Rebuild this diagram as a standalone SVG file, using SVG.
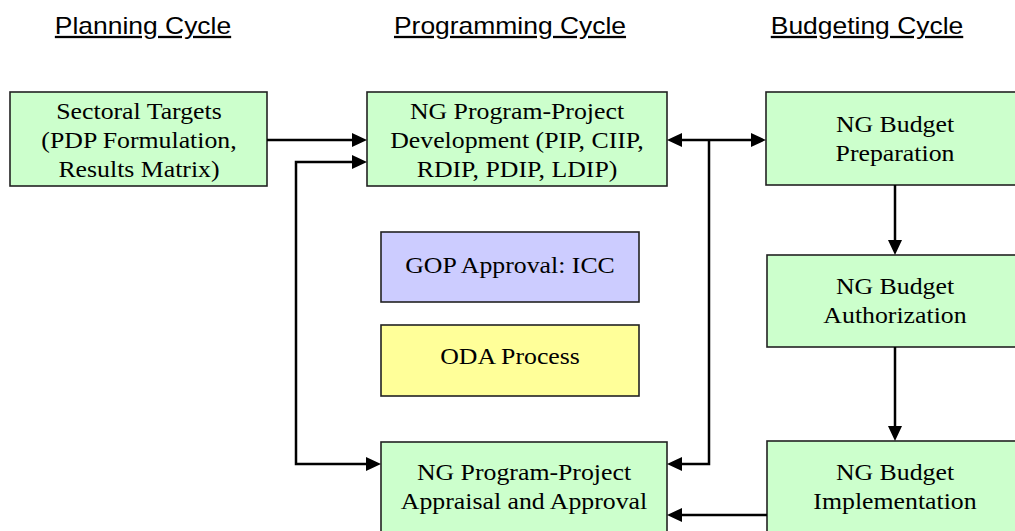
<svg xmlns="http://www.w3.org/2000/svg" width="1015" height="531" viewBox="0 0 1015 531">
  <style>
    .box { stroke: #222; stroke-width: 1.6; }
    .green { fill: #ccffcc; }
    .blue { fill: #ccccff; }
    .yellow { fill: #ffff99; }
    .lbl { font-family: "Liberation Serif", "Times New Roman", serif; font-size: 24px; fill: #000; text-anchor: middle; }
    .head { font-family: "Liberation Sans", Arial, sans-serif; font-size: 23px; fill: #000; text-anchor: middle; text-decoration: underline; }
    .conn { fill: none; stroke: #000; stroke-width: 2.5; }
  </style>
  <defs>
    <marker id="arrow" markerUnits="userSpaceOnUse" markerWidth="16" markerHeight="15" refX="5" refY="7" orient="auto-start-reverse">
      <path d="M0,0 L15,7 L0,14 Z" fill="#000"/>
    </marker>
  </defs>
  <rect width="1015" height="531" fill="#fff"/>

  <!-- column headings -->
  <g id="headings">
    <text class="head" transform="translate(143 0) scale(1.15 1)" x="0" y="34">Planning Cycle</text>
    <text class="head" transform="translate(510 0) scale(1.15 1)" x="0" y="34">Programming Cycle</text>
    <text class="head" transform="translate(867 0) scale(1.15 1)" x="0" y="34">Budgeting Cycle</text>
  </g>

  <g id="sectoral-targets">
    <rect class="box green" x="10" y="92" width="257" height="94"/>
    <text class="lbl" transform="translate(139 0) scale(1.075 1)" y="119"><tspan x="0">Sectoral Targets</tspan><tspan x="0" dy="29">(PDP Formulation,</tspan><tspan x="0" dy="29">Results Matrix)</tspan></text>
  </g>

  <g id="program-development">
    <rect class="box green" x="367" y="92" width="300" height="94"/>
    <text class="lbl" transform="translate(517 0) scale(1.075 1)" y="119"><tspan x="0">NG Program-Project</tspan><tspan x="0" dy="29">Development (PIP, CIIP,</tspan><tspan x="0" dy="29">RDIP, PDIP, LDIP)</tspan></text>
  </g>

  <g id="budget-preparation">
    <rect class="box green" x="766" y="92" width="260" height="93"/>
    <text class="lbl" transform="translate(895 0) scale(1.075 1)" y="132"><tspan x="0">NG Budget</tspan><tspan x="0" dy="29">Preparation</tspan></text>
  </g>

  <g id="gop-approval">
    <rect class="box blue" x="381" y="232" width="258" height="70"/>
    <text class="lbl" transform="translate(510 0) scale(1.075 1)" x="0" y="273">GOP Approval: ICC</text>
  </g>

  <g id="oda-process">
    <rect class="box yellow" x="381" y="325" width="258" height="71"/>
    <text class="lbl" transform="translate(510 0) scale(1.075 1)" x="0" y="364">ODA Process</text>
  </g>

  <g id="budget-authorization">
    <rect class="box green" x="767" y="255" width="260" height="92"/>
    <text class="lbl" transform="translate(895 0) scale(1.075 1)" y="294"><tspan x="0">NG Budget</tspan><tspan x="0" dy="29">Authorization</tspan></text>
  </g>

  <g id="program-appraisal">
    <rect class="box green" x="381" y="442" width="286" height="100"/>
    <text class="lbl" transform="translate(524 0) scale(1.075 1)" y="480"><tspan x="0">NG Program-Project</tspan><tspan x="0" dy="29">Appraisal and Approval</tspan></text>
  </g>

  <g id="budget-implementation">
    <rect class="box green" x="767" y="441" width="260" height="100"/>
    <text class="lbl" transform="translate(895 0) scale(1.075 1)" y="480"><tspan x="0">NG Budget</tspan><tspan x="0" dy="29">Implementation</tspan></text>
  </g>

  <!-- connectors -->
  <g id="connectors">
    <path class="conn" d="M267,140 H357" marker-end="url(#arrow)"/>
    <path class="conn" d="M357,162 H296 V464 H371" marker-start="url(#arrow)" marker-end="url(#arrow)"/>
    <path class="conn" d="M677,140 H756" marker-start="url(#arrow)" marker-end="url(#arrow)"/>
    <path class="conn" d="M709,140 V464 H677" marker-end="url(#arrow)"/>
    <path class="conn" d="M895,185 V245" marker-end="url(#arrow)"/>
    <path class="conn" d="M895,347 V431" marker-end="url(#arrow)"/>
    <path class="conn" d="M767,515 H677" marker-end="url(#arrow)"/>
  </g>
</svg>
